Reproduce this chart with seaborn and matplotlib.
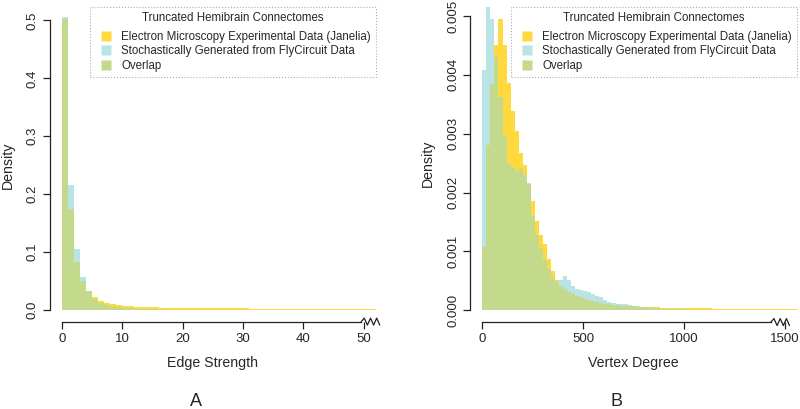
import numpy as np
import pandas as pd
import matplotlib
matplotlib.use("Agg")
import matplotlib.pyplot as plt
import matplotlib.transforms as mtransforms
from matplotlib.lines import Line2D
import seaborn as sns

# Panel A: edge strength, bins of width 1 (0..52)
edge_bins = list(range(0, 53, 1))
edge_em = [0.502, 0.174, 0.083, 0.050, 0.033, 0.023, 0.016, 0.0127, 0.0104, 0.0085,
           0.0072, 0.0063, 0.0057, 0.0052, 0.0048, 0.0044, 0.0041, 0.0038, 0.0036, 0.0034,
           0.0033, 0.0032, 0.0031, 0.0030, 0.0030, 0.0029, 0.0029, 0.0028, 0.0028, 0.0027,
           0.0027, 0.0026, 0.0026, 0.0025, 0.0025, 0.0024, 0.0024, 0.0023, 0.0022, 0.0021,
           0.0020, 0.0019, 0.0018, 0.0017, 0.0016, 0.0015, 0.0014, 0.0013, 0.0012, 0.0011,
           0.0010, 0.0009]
edge_fc = [0.506, 0.216, 0.105, 0.0565, 0.032, 0.0185, 0.0115, 0.0081, 0.0058, 0.0046,
           0.0035, 0.0028, 0.0022, 0.0018, 0.0015, 0.0012, 0.0010, 0.0008, 0.0006, 0.0005,
           0.0004, 0.0003, 0.00025, 0.0002, 0.00016, 0.00013, 0.0001, 0.00008, 0.00006, 0.00005,
           0.00004, 0.00004, 0.00003, 0.00003, 0.00003, 0.00002, 0.00002, 0.00002, 0.00002, 0.00001,
           0.00001, 0.00001, 0.00001, 0.00001, 0.00001, 0.00001, 0.00001, 0.00001, 0.00001, 0.00001,
           0.00001, 0.00001]

# Panel B: vertex degree, bins of width 20 (0..1560)
deg_bins = list(range(0, 1580, 20))
deg_em = [0.00108, 0.00281, 0.00385, 0.00451, 0.00494, 0.00451, 0.00386, 0.00338, 0.00304, 0.00268,
          0.00246, 0.00215, 0.00186, 0.00152, 0.00128, 0.00112, 0.00088, 0.00066, 0.00051, 0.00042,
          0.00036, 0.00031, 0.00027, 0.00024, 0.00022, 0.00020, 0.00018, 0.00016, 0.00014, 0.00012,
          0.00011, 0.00010, 0.00009, 0.000085, 0.00008, 0.000075, 0.00007, 0.000066, 0.000062, 0.000058,
          0.000055, 0.000052, 0.00005, 0.000048, 0.000046, 0.000044, 0.000042, 0.00004, 0.000039, 0.000038,
          0.000037, 0.000036, 0.000035, 0.000034, 0.000033, 0.000032, 0.000031, 0.00003, 0.00003, 0.000029,
          0.000029, 0.000028, 0.000028, 0.000027, 0.000027, 0.000026, 0.000026, 0.000025, 0.000025, 0.000024,
          0.000024, 0.000023, 0.000023, 0.000022, 0.000022, 0.000021, 0.000021, 0.00002]
deg_fc = [0.00409, 0.00515, 0.00494, 0.00430, 0.00363, 0.00295, 0.00250, 0.00244, 0.00236, 0.00241,
          0.00230, 0.00216, 0.00160, 0.00128, 0.00105, 0.00086, 0.00070, 0.00056, 0.00048, 0.00051,
          0.00058, 0.00051, 0.00041, 0.00037, 0.00035, 0.00033, 0.00031, 0.00027, 0.00025, 0.00022,
          0.00018, 0.00014, 0.00012, 0.00011, 0.00011, 0.00010, 0.00009, 0.00008, 0.00007, 0.00006,
          0.00005, 0.00005, 0.00004, 0.00004, 0.00003, 0.00003, 0.00002, 0.00002, 0.00002, 0.000015,
          0.000015, 0.00001, 0.00001, 0.00001, 0.00001, 0.00001, 0.000012, 0.000012, 0.000012, 0.00001,
          0.000008, 0.000006, 0.000005, 0.000004, 0.000003, 0.000003, 0.000002, 0.000002, 0.000002, 0.000002,
          0.000001, 0.000001, 0.000001, 0.000001, 0.000001, 0.000001, 0.000001, 0.000001]

legend_title = "Truncated Hemibrain Connectomes"
legend_labels = ["Electron Microscopy Experimental Data (Janelia)",
                 "Stochastically Generated from FlyCircuit Data",
                 "Overlap"]
colors = ["#FFD93D", "#B8E4E6", "#C3D98B"]

sns.set_theme(style="ticks")
plt.rcParams["font.family"] = ["Liberation Sans", "DejaVu Sans"]

fig = plt.figure(figsize=(8, 4.09), dpi=100)


def draw_panel(ax, bins, em, fc, xlim, ylim, xticks, yticks, yfmt, xlabel, brk, legend_anchor):
    edges = np.array(bins, dtype=float)
    centers = (edges[:-1] + edges[1:]) / 2
    df = pd.DataFrame({"x": centers, "em": em, "fc": fc})
    df["overlap"] = df[["em", "fc"]].min(axis=1)
    for col, c in zip(["em", "fc", "overlap"], colors):
        sns.histplot(data=df, x="x", weights=col, bins=bins, element="step", fill=True,
                     color=c, alpha=1, linewidth=0, ax=ax)
    ax.set_xlim(*xlim)
    ax.set_ylim(*ylim)
    ax.set_xticks(xticks)
    ax.set_yticks(yticks)
    ax.set_yticklabels([yfmt.format(v) for v in yticks], rotation=90, va="center")
    ax.set_xlabel(xlabel, fontsize=10.2, labelpad=8)
    ax.set_ylabel("Density", fontsize=10.2, labelpad=9)
    ax.tick_params(labelsize=9.5, length=5, width=0.9, color="#222222", pad=3)
    sns.despine(ax=ax)
    for s in ["left", "bottom"]:
        ax.spines[s].set_linewidth(0.9)
        ax.spines[s].set_color("#222222")
    ax.spines["left"].set_bounds(yticks[0], yticks[-1])
    ax.spines["bottom"].set_bounds(xticks[0], brk)

    # zigzag axis break
    trans = mtransforms.blended_transform_factory(ax.transData, ax.transAxes)
    span = (xlim[1] - xlim[0]) * 0.0095
    amp = 3.5 / (ax.get_position().height * fig.get_figheight() * fig.dpi)
    zx = [brk + k * span for k in range(7)]
    zy = [0, amp, -amp, amp, -amp, amp, -amp]
    ax.add_line(Line2D(zx, zy, transform=trans, color="#222222", lw=0.9, clip_on=False))

    handles = [Line2D([], [], marker="s", linestyle="none", markersize=7,
                      markerfacecolor=c, markeredgecolor="none") for c in colors]
    leg = ax.legend(handles, legend_labels, title=legend_title, loc="upper right",
                    bbox_to_anchor=legend_anchor, bbox_transform=fig.transFigure,
                    fontsize=8.3, title_fontsize=8.3, fancybox=False, frameon=True,
                    borderpad=0.45, handlelength=1.9, handletextpad=0.35, labelspacing=0.2,
                    borderaxespad=0)
    # extra gap between the title and the entries
    leg._legend_box.sep = 5
    frame = leg.get_frame()
    frame.set_linestyle(":")
    frame.set_edgecolor("#999999")
    frame.set_linewidth(0.8)


ax_a = fig.add_axes([0.0625, 0.2137, 0.4071, 0.7645])
draw_panel(ax_a, edge_bins, edge_em, edge_fc, (-2, 52), (-0.02, 0.52),
           [0, 10, 20, 30, 40, 50], [0.0, 0.1, 0.2, 0.3, 0.4, 0.5], "{:.1f}",
           "Edge Strength", 49.6, (376 / 800, 1 - 7 / 409))

ax_b = fig.add_axes([0.5878, 0.2125, 0.4086, 0.7773])
draw_panel(ax_b, deg_bins, deg_em, deg_fc, (-60, 1560), (-0.0002, 0.0052),
           [0, 500, 1000, 1500], [0.0, 0.001, 0.002, 0.003, 0.004, 0.005], "{:.3f}",
           "Vertex Degree", 1430, (797 / 800, 1 - 7 / 409))

fig.text(196 / 800, 1 - 401.5 / 409, "A", fontsize=13, ha="center", va="center")
fig.text(616 / 800, 1 - 401.5 / 409, "B", fontsize=13, ha="center", va="center")

fig.savefig("out.png", dpi=100)
